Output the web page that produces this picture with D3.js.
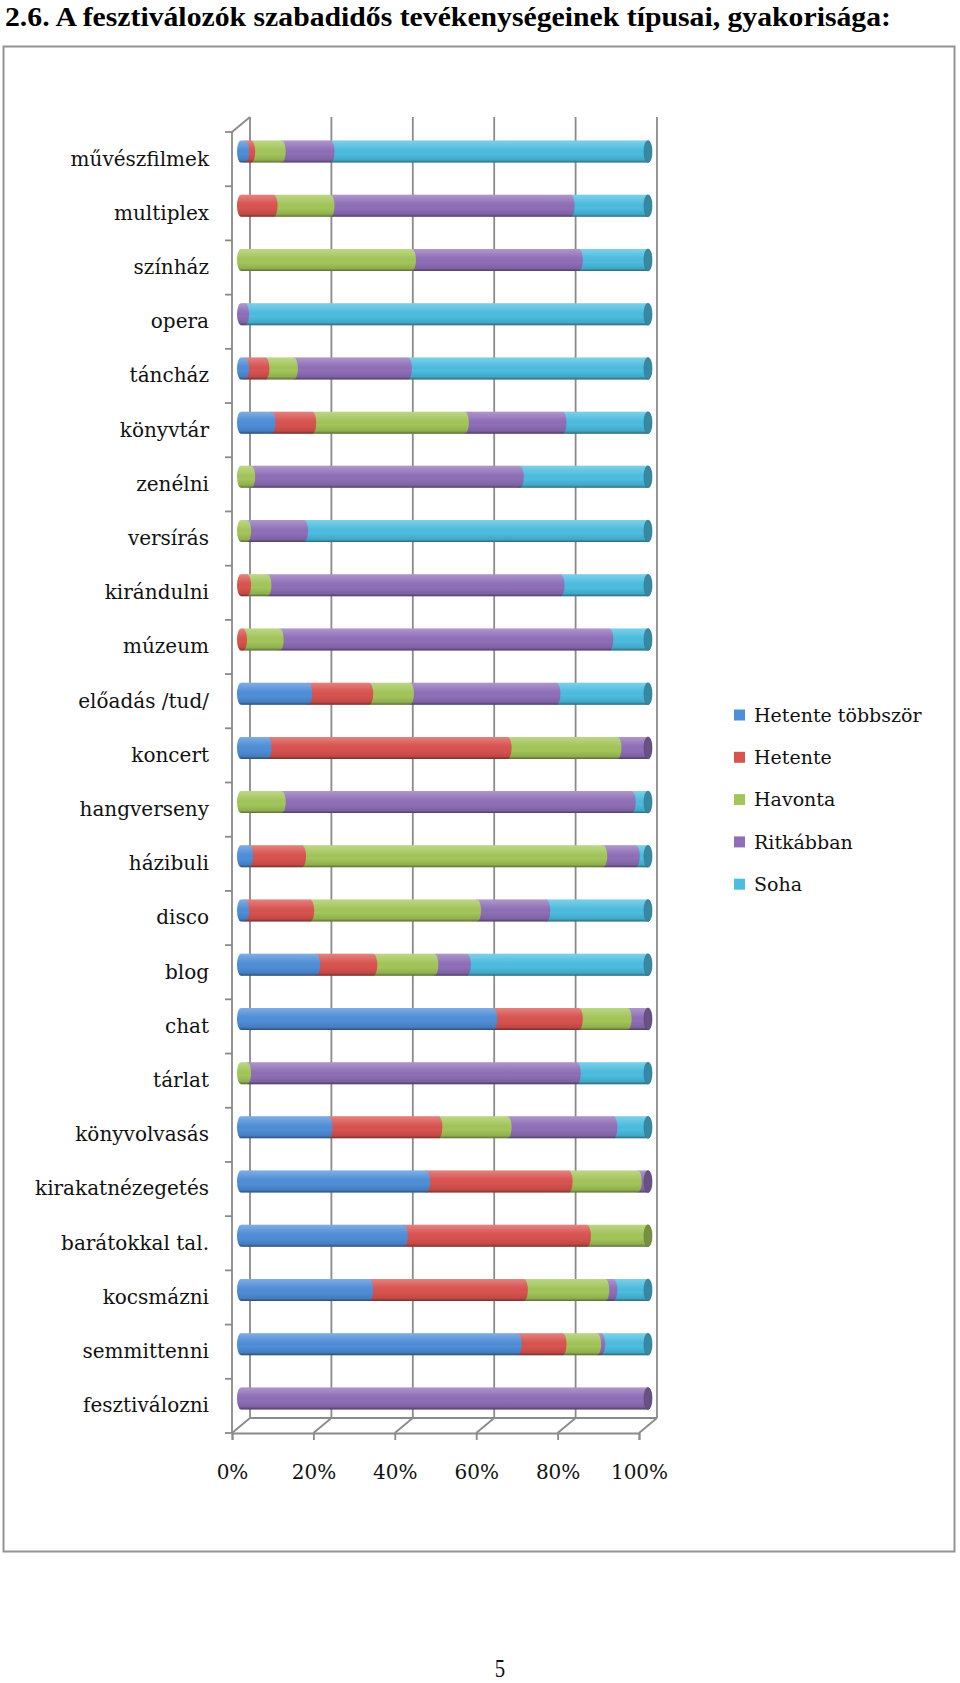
<!DOCTYPE html>
<html><head><meta charset="utf-8">
<script src="https://cdn.jsdelivr.net/npm/d3@7"></script>
<style>
html,body{margin:0;padding:0;background:#fff;}
svg{display:block;}
</style></head>
<body>
<svg id="c" width="960" height="1683"></svg>
<script>
const categories = ["művészfilmek","multiplex","színház","opera","táncház","könyvtár","zenélni","versírás","kirándulni","múzeum","előadás /tud/","koncert","hangverseny","házibuli","disco","blog","chat","tárlat","könyvolvasás","kirakatnézegetés","barátokkal tal.","kocsmázni","semmittenni","fesztiválozni"];
const seriesNames = ["Hetente többször","Hetente","Havonta","Ritkábban","Soha"];
const hetenteTobbszor = [1,0,0,0,1,7.5,0,0,0,0,16.5,6.5,0,2,1,18.5,62,0,21.5,45.5,40,31.5,68,0];
const hetente        = [1.5,8,0,0,5,10,0,0,1.5,0.5,15,59,0,13,16,14,21,0,27,35,45,38,11,0];
const havonta        = [7.5,14,42,0,7,37.5,2.5,1.5,5,9,10,27,10,74,41,15,12,1.5,17,17,15,20,8.5,0];
const ritkabban      = [12,59,41,1,28,24,66,14,72,81,36,7.5,86,8,17,8,5,81,26,2.5,0,2,1,100];
const soha           = [78,19,17,99,59,21,31.5,84.5,21.5,9.5,22.5,0,4,3,25,44.5,0,17.5,8.5,0,0,8.5,11.5,0];
const tickValues = [0,20,40,60,80,100];
const tickLabels = ["0%","20%","40%","60%","80%","100%"];
const colors = ["#4f8ed8","#d9534f","#a3c65a","#8f6fb8","#4cbde0"];
const title = "2.6. A fesztiválozók szabadidős tevékenységeinek típusai, gyakorisága:";

const seriesValues = [hetenteTobbszor, hetente, havonta, ritkabban, soha];
const svg = d3.select("#c");
const FONT = "'DejaVu Serif', serif";

svg.append("text").attr("x",5).attr("y",26)
  .attr("font-family","'Liberation Serif', 'Times New Roman', serif")
  .attr("font-weight","bold").attr("font-size",28)
  .attr("textLength",886).attr("lengthAdjust","spacingAndGlyphs")
  .text(title);

svg.append("rect").attr("x",3.5).attr("y",46.5).attr("width",951).attr("height",1505)
  .attr("fill","none").attr("stroke","#939393").attr("stroke-width",2);

const DX = 18, DY = -15;
const xFront = d3.scaleLinear().domain([0,100]).range([232,639]);
const xMid = d3.scaleLinear().domain([0,100]).range([232+DX/2,639+DX/2]);
const y = d3.scaleBand().domain(categories).range([132,1433]).padding(0);
const yTop = 132, yBot = 1433;
const gridColor = "#8a8a8a";
const grid = svg.append("g").attr("stroke",gridColor).attr("stroke-width",1.8).attr("fill","none");

tickValues.forEach(v=>{
  grid.append("line").attr("x1",xFront(v)+DX).attr("x2",xFront(v)+DX)
    .attr("y1",yTop+DY).attr("y2",yBot+DY);
  grid.append("line").attr("x1",xFront(v)).attr("y1",yBot)
    .attr("x2",xFront(v)+DX).attr("y2",yBot+DY);
});
grid.append("line").attr("x1",xFront(0)+DX).attr("x2",xFront(100)+DX).attr("y1",yBot+DY).attr("y2",yBot+DY);
grid.append("line").attr("x1",xFront(0)).attr("x2",xFront(0)).attr("y1",yTop).attr("y2",yBot);
grid.append("line").attr("x1",xFront(0)).attr("y1",yTop).attr("x2",xFront(0)+DX).attr("y2",yTop+DY);
categories.concat(["__end"]).forEach((c,i)=>{
  const yy = i<categories.length ? y(c) : yBot;
  grid.append("line").attr("x1",xFront(0)-7).attr("x2",xFront(0)).attr("y1",yy).attr("y2",yy);
});

const xAxis = d3.axisBottom(xFront).tickValues(tickValues)
  .tickFormat((d,i)=>tickLabels[i]).tickSize(7).tickPadding(25);
const gx = svg.append("g").attr("transform",`translate(0,${yBot})`).call(xAxis);
gx.select(".domain").attr("stroke",gridColor).attr("stroke-width",1.8);
gx.selectAll(".tick line").attr("stroke",gridColor).attr("stroke-width",1.8);
gx.selectAll(".tick text").attr("font-family",FONT).attr("font-size",20).attr("fill","#111");

const yAxis = d3.axisLeft(y).tickSize(0).tickPadding(23);
const gy = svg.append("g").attr("transform",`translate(${xFront(0)},0)`).call(yAxis);
gy.select(".domain").remove();
gy.selectAll(".tick text").attr("font-family",FONT).attr("font-size",20).attr("fill","#111");

const defs = svg.append("defs");
const grad = defs.append("linearGradient").attr("id","shade").attr("x1",0).attr("x2",0).attr("y1",0).attr("y2",1);
grad.append("stop").attr("offset","0").attr("stop-color","#fff").attr("stop-opacity",0.28);
grad.append("stop").attr("offset","0.3").attr("stop-color","#fff").attr("stop-opacity",0.08);
grad.append("stop").attr("offset","0.6").attr("stop-color","#000").attr("stop-opacity",0);
grad.append("stop").attr("offset","0.88").attr("stop-color","#000").attr("stop-opacity",0.12);
grad.append("stop").attr("offset","1").attr("stop-color","#000").attr("stop-opacity",0.45);

const RY = 11, RX = 4;
function segPath(x0,x1,cy){
  const t = cy-RY, b = cy+RY;
  return `M${x0},${t} L${x1},${t} A${RX},${RY} 0 0 1 ${x1},${b} L${x0},${b} A${RX},${RY} 0 0 1 ${x0},${t} Z`;
}

const bars = svg.append("g");
categories.forEach((cat,i)=>{
  const cy = y(cat) + y.bandwidth()/2 + DY/2;
  let cum = 0;
  const segs = [];
  seriesValues.forEach((arr,k)=>{
    const v = arr[i];
    if(v>0){ segs.push({k, x0:xMid(cum), x1:xMid(cum+v)}); }
    cum += v;
  });
  const g = bars.append("g");
  segs.slice().reverse().forEach(s=>{
    g.append("path").attr("d",segPath(s.x0,s.x1,cy)).attr("fill",colors[s.k]);
  });
  g.append("path").attr("d",segPath(xMid(0),xMid(100),cy)).attr("fill","url(#shade)");
  const last = segs[segs.length-1];
  g.append("ellipse").attr("cx",xMid(100)).attr("cy",cy).attr("rx",RX).attr("ry",RY)
    .attr("fill",d3.color(colors[last.k]).darker(0.9)).attr("stroke",d3.color(colors[last.k]).darker(1.4)).attr("stroke-width",0.6);
});

const leg = svg.append("g").attr("transform","translate(734,715)");
seriesNames.forEach((n,k)=>{
  const gg = leg.append("g").attr("transform",`translate(0,${k*42.3})`);
  gg.append("rect").attr("x",0).attr("y",-5.5).attr("width",11).attr("height",11).attr("fill",colors[k]);
  gg.append("text").attr("x",20).attr("y",0).attr("dy","0.35em")
    .attr("font-family",FONT).attr("font-size",19).attr("fill","#111").text(n);
});

svg.append("text").attr("x",500).attr("y",1677).attr("text-anchor","middle")
  .attr("font-family","'Liberation Serif', serif").attr("font-size",26).attr("fill","#111")
  .attr("transform","translate(500,0) scale(0.8,1) translate(-500,0)").text("5");
</script>
</body></html>
